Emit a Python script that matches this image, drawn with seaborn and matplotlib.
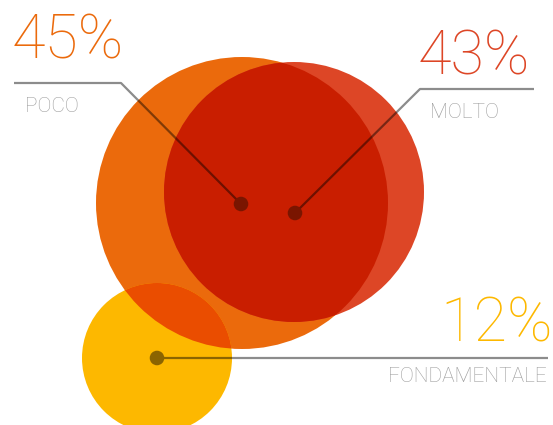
import matplotlib.pyplot as plt
import seaborn as sns
from matplotlib.patches import Circle

# data
labels = ['POCO', 'MOLTO', 'FONDAMENTALE']
values = [45, 43, 12]
colors = ['#EB6A0C', '#DD4626', '#FDB800']
text_colors = ['#EB6A0C', '#DD4626', '#FDB800']

# layout (pixel coords, y down)
centers = [(242, 203), (294, 192), (157, 358)]
radii = [146, 130, 75]
dots = [(241, 204), (295, 213), (157, 358)]
dot_colors = ['#7A1500', '#7A1500', '#8B6400']

sns.set_style('white')
plt.rcParams['font.family'] = ['Roboto', 'DejaVu Sans']

fig = plt.figure(figsize=(5.53, 4.25), dpi=100)
ax = fig.add_axes([0, 0, 1, 1])
ax.set_xlim(0, 553)
ax.set_ylim(425, 0)
ax.set_aspect('equal')
ax.axis('off')

# circles
orange = Circle(centers[0], radii[0], color=colors[0], lw=0, zorder=1)
ax.add_patch(orange)
red = Circle(centers[1], radii[1], color=colors[1], lw=0, zorder=2)
ax.add_patch(red)
red_in = Circle(centers[1], radii[1], color='#C91E00', lw=0, zorder=3)
ax.add_patch(red_in)
red_in.set_clip_path(orange)
yellow = Circle(centers[2], radii[2], color=colors[2], lw=0, zorder=2)
ax.add_patch(yellow)
yellow_in = Circle(centers[2], radii[2], color='#EA4D00', lw=0, zorder=3)
ax.add_patch(yellow_in)
yellow_in.set_clip_path(orange)

# leader lines
line_kw = dict(color='black', alpha=0.45, lw=1.6, zorder=4, solid_capstyle='butt')
ax.plot([14, 121, dots[0][0]], [83, 83, dots[0][1]], **line_kw)
ax.plot([dots[1][0], 420, 534], [dots[1][1], 89, 89], **line_kw)
ax.plot([dots[2][0], 548], [dots[2][1], dots[2][1]], **line_kw)

# anchor dots
sns.scatterplot(x=[d[0] for d in dots], y=[d[1] for d in dots], hue=labels,
                palette=dot_colors, s=110, linewidth=0, legend=False, ax=ax, zorder=5)

# texts
big = dict(fontsize=44, fontweight='light')
small = dict(fontsize=15, color='#9C9C9C', fontweight='light')
ax.text(12, 58, f'{values[0]}%', color=text_colors[0], ha='left', va='baseline', **big)
ax.text(25, 112, labels[0], ha='left', va='baseline', **small)
ax.text(530, 74, f'{values[1]}%', color=text_colors[1], ha='right', va='baseline', **big)
ax.text(430, 118, labels[1], ha='left', va='baseline', **small)
ax.text(553, 342, f'{values[2]}%', color=text_colors[2], ha='right', va='baseline', **big)
ax.text(547, 382, labels[2], ha='right', va='baseline', **small)

fig.savefig('out.png', dpi=100)
